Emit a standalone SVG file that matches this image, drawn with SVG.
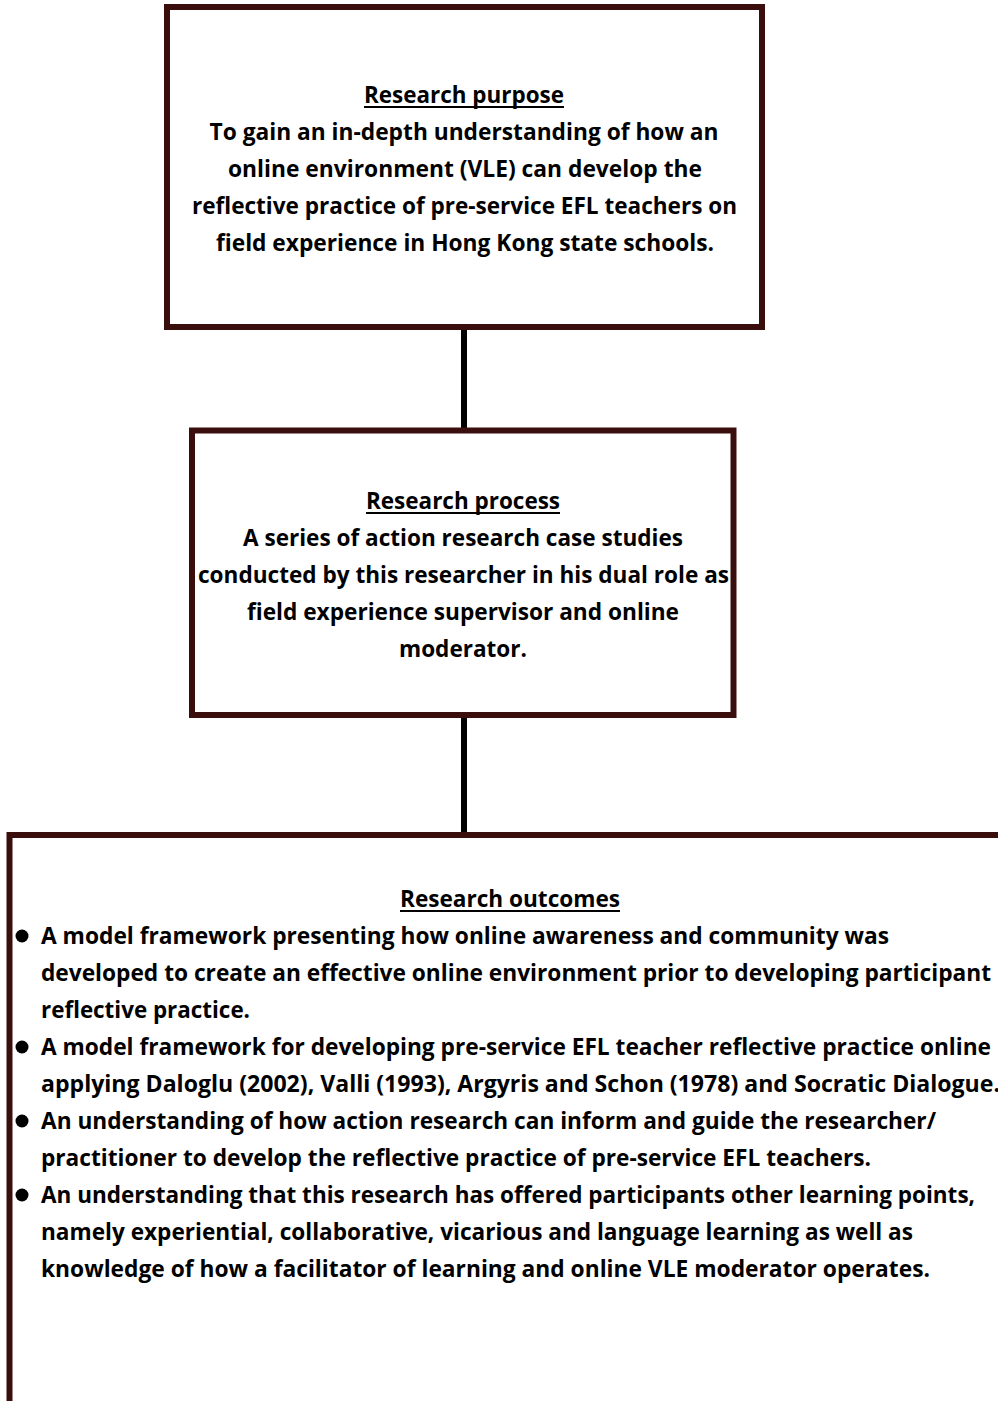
<svg xmlns="http://www.w3.org/2000/svg" width="998" height="1401" viewBox="0 0 998 1401">
<style>
.box{fill:#ffffff;stroke:#3b0e0e;stroke-width:6}
.conn{stroke:#000000;stroke-width:6;fill:none}
text{font-family:"Open Sans","Noto Sans","Liberation Sans",sans-serif;font-weight:700;font-size:24px;fill:#000000}
.c{text-anchor:middle}
.u{stroke:#000000;stroke-width:2}
</style>
<rect x="0" y="0" width="998" height="1401" fill="#ffffff"/>
<g id="connectors">
<line class="conn" x1="464" y1="327" x2="464" y2="431"/>
<line class="conn" x1="464" y1="715" x2="464" y2="835"/>
</g>
<g id="purpose">
<rect class="box" x="167" y="7" width="595" height="320"/>
<text class="c" x="464" y="103" textLength="200" lengthAdjust="spacingAndGlyphs">Research purpose</text>
<line class="u" x1="364" y1="107" x2="564" y2="107"/>
<text class="c" x="464" y="140" textLength="509" lengthAdjust="spacingAndGlyphs">To gain an in-depth understanding of how an</text>
<text class="c" x="465" y="177" textLength="474" lengthAdjust="spacingAndGlyphs">online environment (VLE) can develop the</text>
<text class="c" x="464.5" y="214" textLength="545" lengthAdjust="spacingAndGlyphs">reflective practice of pre-service EFL teachers on</text>
<text class="c" x="465" y="251" textLength="498" lengthAdjust="spacingAndGlyphs">field experience in Hong Kong state schools.</text>
</g>
<g id="process">
<rect class="box" x="192" y="430.5" width="541.5" height="284.5"/>
<text class="c" x="463" y="509" textLength="194" lengthAdjust="spacingAndGlyphs">Research process</text>
<line class="u" x1="366" y1="513" x2="560" y2="513"/>
<text class="c" x="463" y="546" textLength="440" lengthAdjust="spacingAndGlyphs">A series of action research case studies</text>
<text class="c" x="463.5" y="583" textLength="531" lengthAdjust="spacingAndGlyphs">conducted by this researcher in his dual role as</text>
<text class="c" x="463" y="620" textLength="432" lengthAdjust="spacingAndGlyphs">field experience supervisor and online</text>
<text class="c" x="463" y="657" textLength="128" lengthAdjust="spacingAndGlyphs">moderator.</text>
</g>
<g id="outcomes">
<rect class="box" x="9.5" y="835" width="1100" height="700"/>
<text class="c" x="510" y="907" textLength="220" lengthAdjust="spacingAndGlyphs">Research outcomes</text>
<line class="u" x1="400" y1="911" x2="620" y2="911"/>
<circle cx="22" cy="936" r="6.5"/>
<circle cx="22" cy="1047" r="6.5"/>
<circle cx="22" cy="1121" r="6.5"/>
<circle cx="22" cy="1195" r="6.5"/>
<text x="41" y="944" textLength="848" lengthAdjust="spacingAndGlyphs">A model framework presenting how online awareness and community was</text>
<text x="41" y="981" textLength="950" lengthAdjust="spacingAndGlyphs">developed to create an effective online environment prior to developing participant</text>
<text x="41" y="1018" textLength="209" lengthAdjust="spacingAndGlyphs">reflective practice.</text>
<text x="41" y="1055" textLength="950" lengthAdjust="spacingAndGlyphs">A model framework for developing pre-service EFL teacher reflective practice online</text>
<text x="41" y="1092" textLength="959" lengthAdjust="spacingAndGlyphs">applying Daloglu (2002), Valli (1993), Argyris and Schon (1978) and Socratic Dialogue.</text>
<text x="41" y="1129" textLength="895" lengthAdjust="spacingAndGlyphs">An understanding of how action research can inform and guide the researcher/</text>
<text x="41" y="1166" textLength="830" lengthAdjust="spacingAndGlyphs">practitioner to develop the reflective practice of pre-service EFL teachers.</text>
<text x="41" y="1203" textLength="934" lengthAdjust="spacingAndGlyphs">An understanding that this research has offered participants other learning points,</text>
<text x="41" y="1240" textLength="872" lengthAdjust="spacingAndGlyphs">namely experiential, collaborative, vicarious and language learning as well as</text>
<text x="41" y="1277" textLength="889" lengthAdjust="spacingAndGlyphs">knowledge of how a facilitator of learning and online VLE moderator operates.</text>
</g>
</svg>
